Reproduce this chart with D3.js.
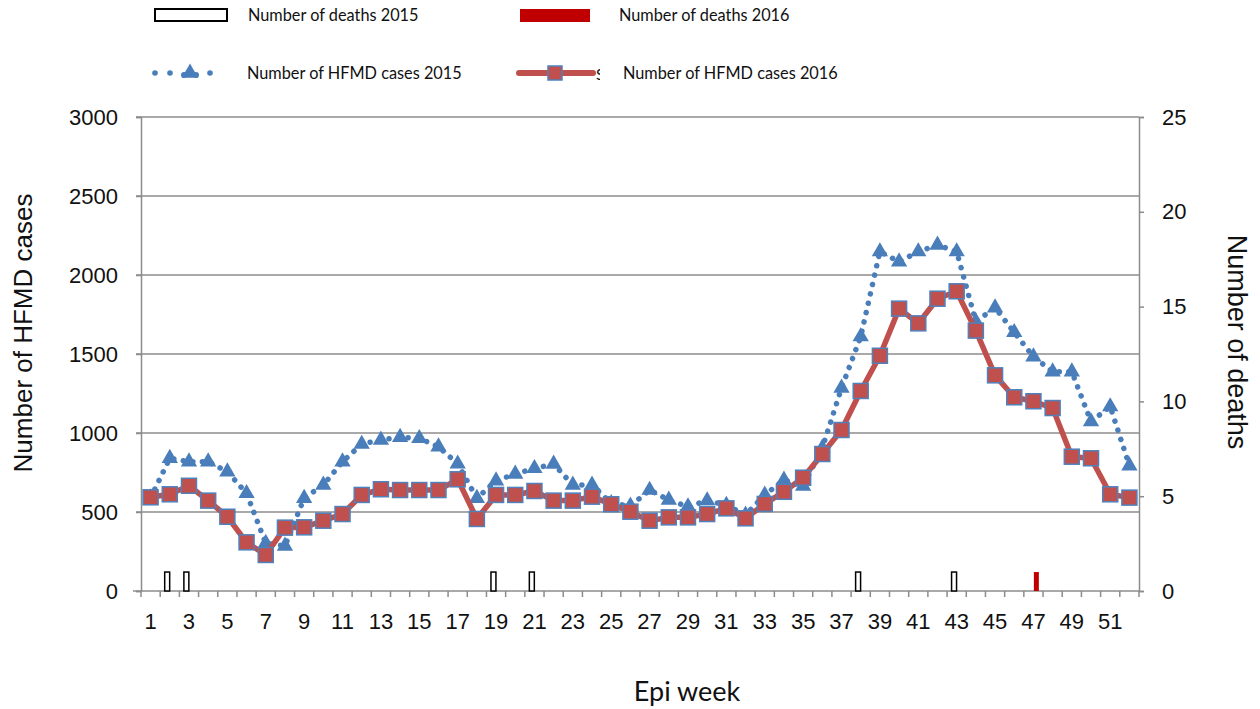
<!DOCTYPE html>
<html>
<head>
<meta charset="utf-8">
<script src="https://cdn.jsdelivr.net/npm/d3@7"></script>
<style>
  body { margin: 0; background: #fff; }
  svg { display: block; }
</style>
</head>
<body>
<svg id="chart" width="1260" height="709"></svg>
<script>
// epi weeks 1..52
var weeks = d3.range(1, 53);

// weekly HFMD cases
var cases2015 = [590, 840, 818, 818, 755, 618, 302, 285, 587, 671,
                 818, 930, 956, 973, 966, 913, 805, 587, 698, 741,
                 776, 804, 671, 671, 555, 538, 639, 576, 534, 572,
                 544, 481, 608, 703, 665, 905, 1285, 1610, 2148, 2084,
                 2148, 2190, 2148, 1705, 1793, 1637, 1483, 1388, 1388, 1072,
                 1167, 793];
var cases2016 = [593, 612, 666, 572, 470, 308, 228, 401, 403, 445,
                 487, 608, 644, 639, 639, 639, 707, 456, 608, 608,
                 633, 572, 572, 597, 549, 502, 445, 466, 466, 487,
                 523, 460, 551, 628, 717, 867, 1019, 1266, 1489, 1787,
                 1694, 1850, 1897, 1648, 1365, 1226, 1201, 1158, 850, 840,
                 612, 591];

// weekly deaths
var deaths2015 = [0, 1, 1, 0, 0, 0, 0, 0, 0, 0, 0, 0, 0, 0, 0, 0, 0, 0, 1, 0,
                  1, 0, 0, 0, 0, 0, 0, 0, 0, 0, 0, 0, 0, 0, 0, 0, 0, 1, 0, 0,
                  0, 0, 1, 0, 0, 0, 0, 0, 0, 0, 0, 0];
var deaths2016 = [0, 0, 0, 0, 0, 0, 0, 0, 0, 0, 0, 0, 0, 0, 0, 0, 0, 0, 0, 0,
                  0, 0, 0, 0, 0, 0, 0, 0, 0, 0, 0, 0, 0, 0, 0, 0, 0, 0, 0, 0,
                  0, 0, 0, 0, 0, 0, 1, 0, 0, 0, 0, 0];

// tick values
var caseTicks = [0, 500, 1000, 1500, 2000, 2500, 3000];
var deathTicks = [0, 5, 10, 15, 20, 25];

var blue = "#4a7ebb", red = "#c0504d", grey = "#8c8c8c";
var numFont = "'Liberation Sans', Arial, sans-serif";
var lblFont = "Lato, 'Open Sans', sans-serif";

var svg = d3.select("#chart");

// plot area (note: "top" is taken by window.top)
var plotL = 141, plotR = 1139, plotT = 117, plotB = 591;

var x = d3.scaleBand().domain(weeks).range([plotL, plotR]).padding(0);
var y = d3.scaleLinear().domain([0, 3000]).range([plotB, plotT]);
var yR = d3.scaleLinear().domain([0, 25]).range([plotB, plotT]);
// the two death bars inside one week
var xSub = d3.scaleBand().domain(["2015", "2016"]).range([4.5, 15]).paddingInner(0.1);

// gridlines
svg.append("g").selectAll("line")
  .data(caseTicks.filter(d => d > 0))
  .join("line")
  .attr("x1", plotL - 5).attr("x2", plotR)
  .attr("y1", d => y(d)).attr("y2", d => y(d))
  .attr("stroke", grey).attr("stroke-width", 1.5);

// left axis
var gL = svg.append("g").attr("transform", "translate(" + plotL + ",0)")
  .call(d3.axisLeft(y).tickValues(caseTicks).tickFormat(d3.format("d")).tickSize(5).tickPadding(18));
gL.select(".domain").attr("stroke", grey).attr("stroke-width", 1.5);
gL.selectAll(".tick line").attr("stroke", grey).attr("stroke-width", 1.5);
gL.selectAll("text").attr("font-family", numFont).attr("font-size", 22).attr("fill", "#111");

// right axis
var gR = svg.append("g").attr("transform", "translate(" + plotR + ",0)")
  .call(d3.axisRight(yR).tickValues(deathTicks).tickFormat(d3.format("d")).tickSize(5).tickPadding(18));
gR.select(".domain").attr("stroke", grey).attr("stroke-width", 1.5);
gR.selectAll(".tick line").attr("stroke", grey).attr("stroke-width", 1.5);
gR.selectAll("text").attr("font-family", numFont).attr("font-size", 22).attr("fill", "#111");

// x axis line + ticks between weeks
svg.append("line")
  .attr("x1", plotL - 8).attr("x2", plotR)
  .attr("y1", plotB).attr("y2", plotB)
  .attr("stroke", grey).attr("stroke-width", 1.5);
svg.append("g").selectAll("line")
  .data(weeks.concat([53]))
  .join("line")
  .attr("x1", d => d <= 52 ? x(d) : plotR)
  .attr("x2", d => d <= 52 ? x(d) : plotR)
  .attr("y1", plotB).attr("y2", plotB + 6)
  .attr("stroke", grey).attr("stroke-width", 1.5);
svg.append("g").selectAll("text")
  .data(weeks.filter(d => d % 2 === 1))
  .join("text")
  .attr("x", d => x(d) + x.bandwidth() / 2)
  .attr("y", 629)
  .attr("text-anchor", "middle")
  .attr("font-family", numFont).attr("font-size", 22)
  .attr("fill", "#111")
  .text(d => d);

// death bars
var bars = svg.append("g");
bars.selectAll(".d15")
  .data(weeks.filter((w, i) => deaths2015[i] > 0))
  .join("rect")
  .attr("x", w => x(w) + xSub("2015"))
  .attr("y", w => yR(deaths2015[w - 1]))
  .attr("width", xSub.bandwidth())
  .attr("height", w => plotB - yR(deaths2015[w - 1]))
  .attr("fill", "#fff").attr("stroke", "#000").attr("stroke-width", 1.5);
bars.selectAll(".d16")
  .data(weeks.filter((w, i) => deaths2016[i] > 0))
  .join("rect")
  .attr("x", w => x(w) + xSub("2016"))
  .attr("y", w => yR(deaths2016[w - 1]))
  .attr("width", xSub.bandwidth())
  .attr("height", w => plotB - yR(deaths2016[w - 1]))
  .attr("fill", "#c00000");

var cx = w => x(w) + x.bandwidth() / 2;

// 2015 cases: dotted line with triangles
var line15 = d3.line().x((d, i) => cx(weeks[i])).y(d => y(d));
svg.append("path")
  .datum(cases2015)
  .attr("d", line15)
  .attr("fill", "none").attr("stroke", blue)
  .attr("stroke-width", 5.5).attr("stroke-linecap", "round")
  .attr("stroke-dasharray", "0.1 9.5");
var tri = d3.symbol().type(d3.symbolTriangle).size(115);
svg.append("g").selectAll("path")
  .data(cases2015)
  .join("path")
  .attr("d", tri)
  .attr("transform", (d, i) => "translate(" + cx(weeks[i]) + "," + y(d) + ")")
  .attr("fill", blue);

// 2016 cases: solid red line with squares
var line16 = d3.line().x((d, i) => cx(weeks[i])).y(d => y(d));
svg.append("path")
  .datum(cases2016)
  .attr("d", line16)
  .attr("fill", "none").attr("stroke", red)
  .attr("stroke-width", 5.5).attr("stroke-linejoin", "round");
svg.append("g").selectAll("rect")
  .data(cases2016)
  .join("rect")
  .attr("x", (d, i) => cx(weeks[i]) - 7.5)
  .attr("y", d => y(d) - 7.5)
  .attr("width", 15).attr("height", 15)
  .attr("fill", red).attr("stroke", "#4f81bd").attr("stroke-width", 1.5);

// axis titles
svg.append("text")
  .attr("transform", "translate(32,333) rotate(-90)")
  .attr("text-anchor", "middle")
  .attr("font-family", numFont).attr("font-size", 26).attr("fill", "#111")
  .text("Number of HFMD cases");
svg.append("text")
  .attr("transform", "translate(1228,342) rotate(90)")
  .attr("text-anchor", "middle")
  .attr("font-family", numFont).attr("font-size", 27).attr("fill", "#111")
  .text("Number of deaths");
svg.append("text")
  .attr("x", 687).attr("y", 701)
  .attr("text-anchor", "middle")
  .attr("font-family", lblFont).attr("font-size", 27).attr("fill", "#111")
  .text("Epi week");

// legend
var legendNames = ["Number of deaths 2015", "Number of deaths 2016",
                   "Number of HFMD cases 2015", "Number of HFMD cases 2016"];
var lg = svg.append("g");
lg.append("rect").attr("x", 155).attr("y", 9).attr("width", 72).attr("height", 12)
  .attr("fill", "#fff").attr("stroke", "#000").attr("stroke-width", 2);
lg.append("rect").attr("x", 520).attr("y", 9).attr("width", 70).attr("height", 13)
  .attr("fill", "#c00000");
// blue dots + triangle
lg.selectAll(".ld").data([155, 170, 210]).join("circle")
  .attr("cx", d => d).attr("cy", 73).attr("r", 2.8).attr("fill", blue);
lg.append("path").attr("d", tri).attr("transform", "translate(190,73)").attr("fill", blue);
lg.append("circle").attr("cx", 184).attr("cy", 75).attr("r", 3).attr("fill", blue);
lg.append("circle").attr("cx", 196).attr("cy", 75).attr("r", 3).attr("fill", blue);
// red line + square
lg.append("line").attr("x1", 519).attr("x2", 593).attr("y1", 73).attr("y2", 73)
  .attr("stroke", red).attr("stroke-width", 6).attr("stroke-linecap", "round");
lg.append("rect").attr("x", 548).attr("y", 66).attr("width", 14).attr("height", 14)
  .attr("fill", red).attr("stroke", "#4f81bd").attr("stroke-width", 1.5);
// cut-off glyph next to the red legend line
lg.append("clipPath").attr("id", "cut").append("rect")
  .attr("x", 596).attr("y", 60).attr("width", 4).attr("height", 30);
lg.append("text").attr("x", 596).attr("y", 80).attr("clip-path", "url(#cut)")
  .attr("font-family", lblFont).attr("font-size", 16).attr("fill", "#111").text("S");

lg.selectAll(".lt")
  .data(legendNames)
  .join("text")
  .attr("x", (d, i) => [248, 619, 247, 623][i])
  .attr("y", (d, i) => i < 2 ? 21 : 79)
  .attr("font-family", lblFont).attr("font-size", 16.3).attr("fill", "#111")
  .text(d => d);
</script>
</body>
</html>
